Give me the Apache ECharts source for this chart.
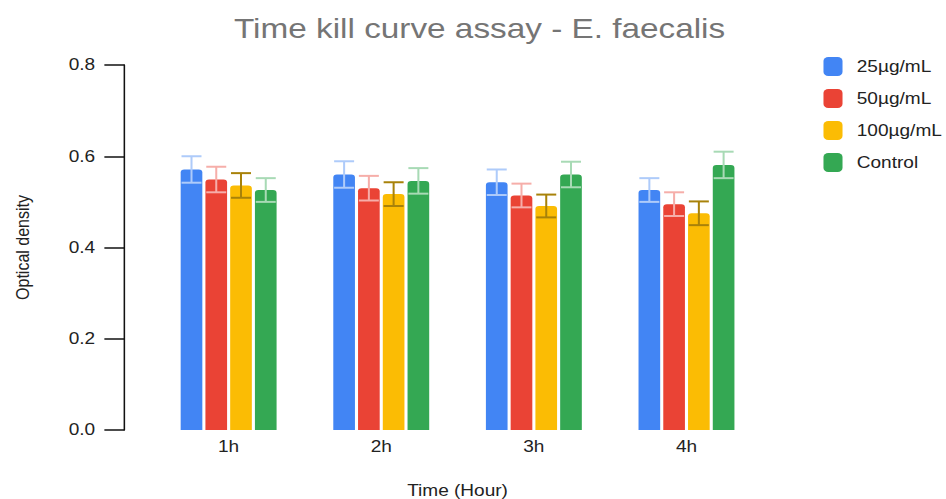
<!DOCTYPE html>
<html><head><meta charset="utf-8">
<script src="https://cdn.jsdelivr.net/npm/echarts@6/dist/echarts.min.js"></script>
<style>html,body{margin:0;padding:0;background:#fff;overflow:hidden}
#c{width:795px;height:499px;transform:scaleX(1.19);transform-origin:0 0}</style>
</head><body><div id="c"></div>
<script>
const categories = ['1h','2h','3h','4h'];
const seriesNames = ['25µg/mL','50µg/mL','100µg/mL','Control'];
const v25 = [0.571, 0.560, 0.543, 0.526];
const e25 = [0.029, 0.029, 0.028, 0.026];
const v50 = [0.549, 0.530, 0.514, 0.495];
const e50 = [0.028, 0.027, 0.026, 0.026];
const v100 = [0.536, 0.517, 0.491, 0.475];
const e100 = [0.027, 0.026, 0.025, 0.026];
const vCtrl = [0.526, 0.546, 0.560, 0.581];
const eCtrl = [0.026, 0.028, 0.028, 0.029];
const yTicks = [0, 0.2, 0.4, 0.6, 0.8];

const values = [v25, v50, v100, vCtrl];
const errors = [e25, e50, e100, eCtrl];
const colors = ['#4285F4','#EA4335','#FBBC04','#34A853'];
const errColors = ['#aecbfa','#f6aea9','#a8820a','#a8dab5'];
const BW = 18.2, GAP = 2.6;
const font = "'Liberation Sans', Arial, sans-serif";

const series = [];
values.forEach((vals, i) => {
  series.push({
    name: seriesNames[i], type: 'bar', data: vals, barWidth: BW, barGap: (GAP/BW*100)+'%',
    itemStyle: {color: colors[i], borderRadius: [3,3,0,0]}
  });
});
values.forEach((vals, i) => {
  const data = vals.map((v, k) => [k, v - errors[i][k], v + errors[i][k]]);
  series.push({
    name: 'err' + i, type: 'custom', z: 10,
    data: data,
    encode: {x: 0, y: [1, 2]},
    renderItem: function (params, api) {
      const lo = api.coord([api.value(0), api.value(1)]);
      const hi = api.coord([api.value(0), api.value(2)]);
      const n = values.length;
      const total = n * BW + (n - 1) * GAP;
      const x = lo[0] - total / 2 + BW / 2 + i * (BW + GAP);
      const hw = 8.4;
      const st = {stroke: errColors[i], lineWidth: 2, fill: null};
      return {type: 'group', children: [
        {type: 'line', shape: {x1: x, y1: hi[1], x2: x, y2: lo[1]}, style: {stroke: errColors[i], lineWidth: 1.7}},
        {type: 'line', shape: {x1: x - hw, y1: hi[1], x2: x + hw, y2: hi[1]}, style: st},
        {type: 'line', shape: {x1: x - hw, y1: lo[1], x2: x + hw, y2: lo[1]}, style: st}
      ]};
    }
  });
});

const chart = echarts.init(document.getElementById('c'), null, {renderer: 'svg'});
chart.setOption({
  animation: false,
  textStyle: {fontFamily: font},
  title: {text: 'Time kill curve assay - E. faecalis', left: 398, top: 9, textAlign: 'center',
    textStyle: {fontSize: 28, fontWeight: 'normal', color: '#757575', fontFamily: font}},
  legend: {data: seriesNames, orient: 'vertical', left: 687, top: 52, itemWidth: 16, itemHeight: 19,
    itemGap: 13, icon: 'roundRect', textStyle: {fontSize: 16, color: '#222', padding: [0,0,0,7]}},
  grid: {left: 128, right: 154, top: 65, bottom: 69, outerBoundsMode: 'none', containLabel: false},
  xAxis: {type: 'category', data: categories, axisLine: {show: false}, axisTick: {show: false},
    axisLabel: {fontSize: 16, color: '#222', margin: 9},
    name: 'Time (Hour)', nameLocation: 'middle', nameGap: 53, nameTextStyle: {fontSize: 16, color: '#222'}},
  yAxis: {type: 'value', min: 0, max: 0.8, interval: 0.2, offset: 23.5,
    axisLine: {show: true, lineStyle: {color: '#111', width: 1.3}},
    axisTick: {show: true, length: 16.8, lineStyle: {color: '#111', width: 1.5}},
    splitLine: {show: false},
    axisLabel: {fontSize: 16, color: '#222', margin: 24.5, formatter: v => yTicks.includes(+v.toFixed(1)) ? v.toFixed(1) : ''},
    name: 'Optical density', nameLocation: 'middle', nameGap: 78, nameTextStyle: {fontSize: 16, color: '#222'}},
  series: series
});
</script></body></html>
